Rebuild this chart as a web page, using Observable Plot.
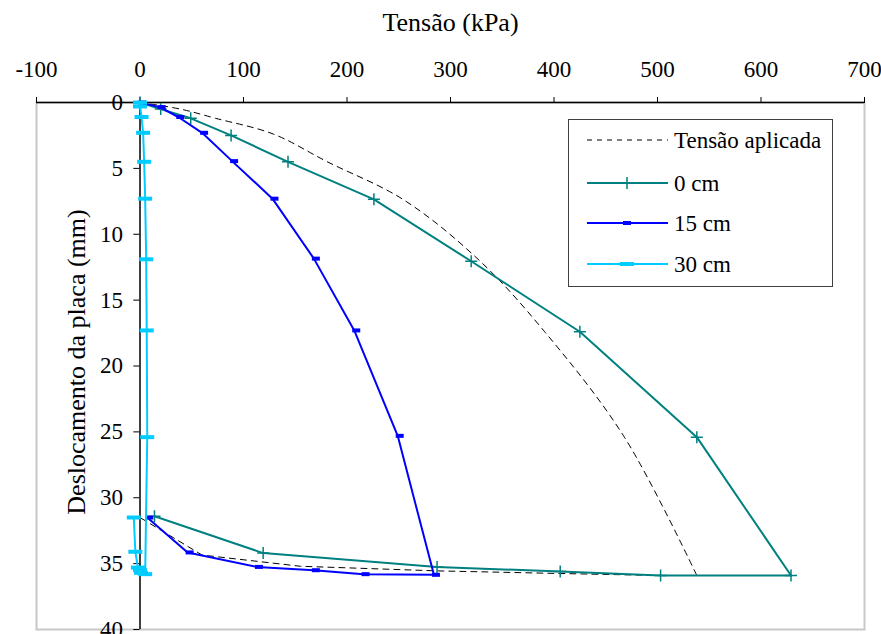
<!DOCTYPE html>
<html><head><meta charset="utf-8">
<script src="https://cdn.jsdelivr.net/npm/d3@7"></script>
<script src="https://cdn.jsdelivr.net/npm/@observablehq/plot@0.6"></script>
<style>
body{margin:0;background:#fff;}
#wrap{position:relative;width:881px;height:634px;overflow:hidden;font-family:"Liberation Serif","Times New Roman","DejaVu Serif",serif;}
#legend{position:absolute;left:568px;top:119px;width:263px;height:166px;border:1.5px solid #404040;background:#fff;}
.row{position:absolute;left:0;width:263px;height:30px;}
.row svg{position:absolute;left:18px;top:0;}
.row span{position:absolute;left:105px;top:50%;transform:translateY(-50%);font-size:23px;line-height:1;white-space:nowrap;color:#000;font-family:"Liberation Serif","Times New Roman","DejaVu Serif",serif;}
</style></head><body><div id="wrap"></div>
<script>
// ---- data ----
const xTicks = [-100, 0, 100, 200, 300, 400, 500, 600, 700];
const yTicks = [0, 5, 10, 15, 20, 25, 30, 35, 40];
const seriesNames = ["Tensão aplicada", "0 cm", "15 cm", "30 cm"];

// Tensão aplicada (dashed): loading branch (smoothed) and unloading branch
const appliedLoadTension = [0, 39, 73, 129, 181, 255, 328, 391, 468, 538];
const appliedLoadDisp    = [0, 0.5, 1.2, 2.4, 4.5, 7.4, 12.0, 17.4, 25.4, 35.9];
const appliedUnloadTension = [538, 503, 406, 287, 155, 60, 0];
const appliedUnloadDisp    = [35.9, 35.9, 35.75, 35.55, 35.2, 34.35, 31.5];

// 0 cm
const s0Tension = [0, 20, 49, 88, 143, 226, 320, 425, 538, 629, 503, 406, 287, 119, 14];
const s0Disp    = [0, 0.5, 1.2, 2.5, 4.5, 7.35, 12.05, 17.4, 25.4, 35.9, 35.9, 35.6, 35.25, 34.2, 31.4];

// 15 cm
const s15Tension = [0, 19, 37, 60, 89, 128, 168, 207, 249, 284, 216, 168, 113, 46, 7];
const s15Disp    = [0, 0.35, 1.1, 2.3, 4.45, 7.3, 11.85, 17.3, 25.3, 35.85, 35.8, 35.5, 35.25, 34.15, 31.5];

// 30 cm
const s30Tension = [0, 0, 1.5, 3, 4, 5, 6, 6.5, 7, 5, 1, 0, -2, -4.5, -6];
const s30Disp    = [0, 0.3, 1.1, 2.3, 4.5, 7.3, 11.9, 17.3, 25.4, 35.8, 35.7, 35.5, 35.3, 34.1, 31.5];

// ---- build tables ----
const zip = (xs, ys) => xs.map((x, i) => ({x, y: ys[i]}));
const appliedLoad = zip(appliedLoadTension, appliedLoadDisp);
const appliedUnload = zip(appliedUnloadTension, appliedUnloadDisp);
const s0 = zip(s0Tension, s0Disp);
const s15 = zip(s15Tension, s15Disp);
const s30 = zip(s30Tension, s30Disp);

const colors = {teal: "#008080", blue: "#0000FF", cyan: "#00CCFF"};

const plusSym = {draw(ctx) { const s = 6; ctx.moveTo(-s, 0); ctx.lineTo(s, 0); ctx.moveTo(0, -s); ctx.lineTo(0, s); }};
const dashSym = {draw(ctx) { ctx.rect(-4, -2, 8, 4); }};
const barSym  = {draw(ctx) { ctx.rect(-7, -2, 14, 4); }};

const fmt = d => d < 0 ? "-" + Math.abs(d) : String(d);
const FONT = '"Liberation Serif","Times New Roman","DejaVu Serif",serif';

const chart = Plot.plot({
  width: 881,
  height: 634,
  marginLeft: 36,
  marginRight: 17,
  marginTop: 102,
  marginBottom: 5,
  style: {fontFamily: FONT, fontSize: "23px", color: "#000", background: "#fff"},
  x: {domain: [-100, 700]},
  y: {domain: [0, 40], reverse: true, axis: null},
  marks: [
    Plot.frame({stroke: "#c8c8c8", strokeWidth: 2}),
    Plot.axisX(xTicks, {anchor: "top", label: null, tickSize: 6, tickPadding: 20, tickFormat: fmt, fontSize: 23, stroke: "#000"}),
    Plot.ruleY([0], {stroke: "#000", strokeWidth: 1.5}),
    Plot.ruleX([0], {stroke: "#000", strokeWidth: 1.5}),
    Plot.ruleY(yTicks, {x1: -6, x2: 0, stroke: "#000", strokeWidth: 1}),
    Plot.text(yTicks, {x: 0, y: d => d, text: fmt, dx: -17, textAnchor: "end", fontSize: 23}),
    Plot.text(["Tensão (kPa)"], {frameAnchor: "top", dy: -90, fontSize: 26, text: d => d, textAnchor: "middle"}),
    Plot.text(["Deslocamento da placa (mm)"], {frameAnchor: "left", rotate: -90, dx: 40, dy: -4, fontSize: 26, text: d => d, textAnchor: "middle"}),
    // applied tension (dashed)
    Plot.line(appliedLoad, {x: "x", y: "y", stroke: "#000", strokeWidth: 1, strokeDasharray: "6,5", curve: "catmull-rom"}),
    Plot.line(appliedUnload, {x: "x", y: "y", stroke: "#000", strokeWidth: 1, strokeDasharray: "6,5"}),
    // 0 cm
    Plot.line(s0, {x: "x", y: "y", stroke: colors.teal, strokeWidth: 2}),
    Plot.dot(s0, {x: "x", y: "y", symbol: plusSym, stroke: colors.teal, strokeWidth: 1.5, fill: "none"}),
    // 15 cm
    Plot.line(s15, {x: "x", y: "y", stroke: colors.blue, strokeWidth: 2}),
    Plot.dot(s15, {x: "x", y: "y", symbol: dashSym, fill: colors.blue, stroke: "none", dx: 2}),
    // 30 cm
    Plot.line(s30, {x: "x", y: "y", stroke: colors.cyan, strokeWidth: 2}),
    Plot.dot(s30, {x: "x", y: "y", symbol: barSym, fill: colors.cyan, stroke: "none"})
  ]
});
const wrap = document.getElementById("wrap");
wrap.appendChild(chart);

// legend
const legend = document.createElement("div");
legend.id = "legend";
const rowCenters = [20, 63, 103, 144];
const legendStyles = [
  {stroke: "#555", dash: "5,5", width: 1.5, marker: null},
  {stroke: colors.teal, dash: null, width: 2, marker: "plus"},
  {stroke: colors.blue, dash: null, width: 2, marker: "dash"},
  {stroke: colors.cyan, dash: null, width: 2, marker: "bar"}
];
seriesNames.forEach((name, i) => {
  const st = legendStyles[i];
  const row = document.createElement("div");
  row.className = "row";
  row.style.top = (rowCenters[i] - 15) + "px";
  let mk = "";
  if (st.marker === "plus") mk = `<path d="M34,15H46M40,9V21" stroke="${st.stroke}" stroke-width="1.5"/>`;
  if (st.marker === "dash") mk = `<rect x="36" y="13" width="8" height="4" fill="${st.stroke}"/>`;
  if (st.marker === "bar") mk = `<rect x="33" y="13" width="14" height="4" fill="${st.stroke}"/>`;
  row.innerHTML = `<svg width="81" height="30"><line x1="0" y1="15" x2="81" y2="15" stroke="${st.stroke}" stroke-width="${st.width}" ${st.dash ? `stroke-dasharray="${st.dash}"` : ""}/>${mk}</svg><span>${name}</span>`;
  legend.appendChild(row);
});
wrap.appendChild(legend);
</script>
</body></html>
